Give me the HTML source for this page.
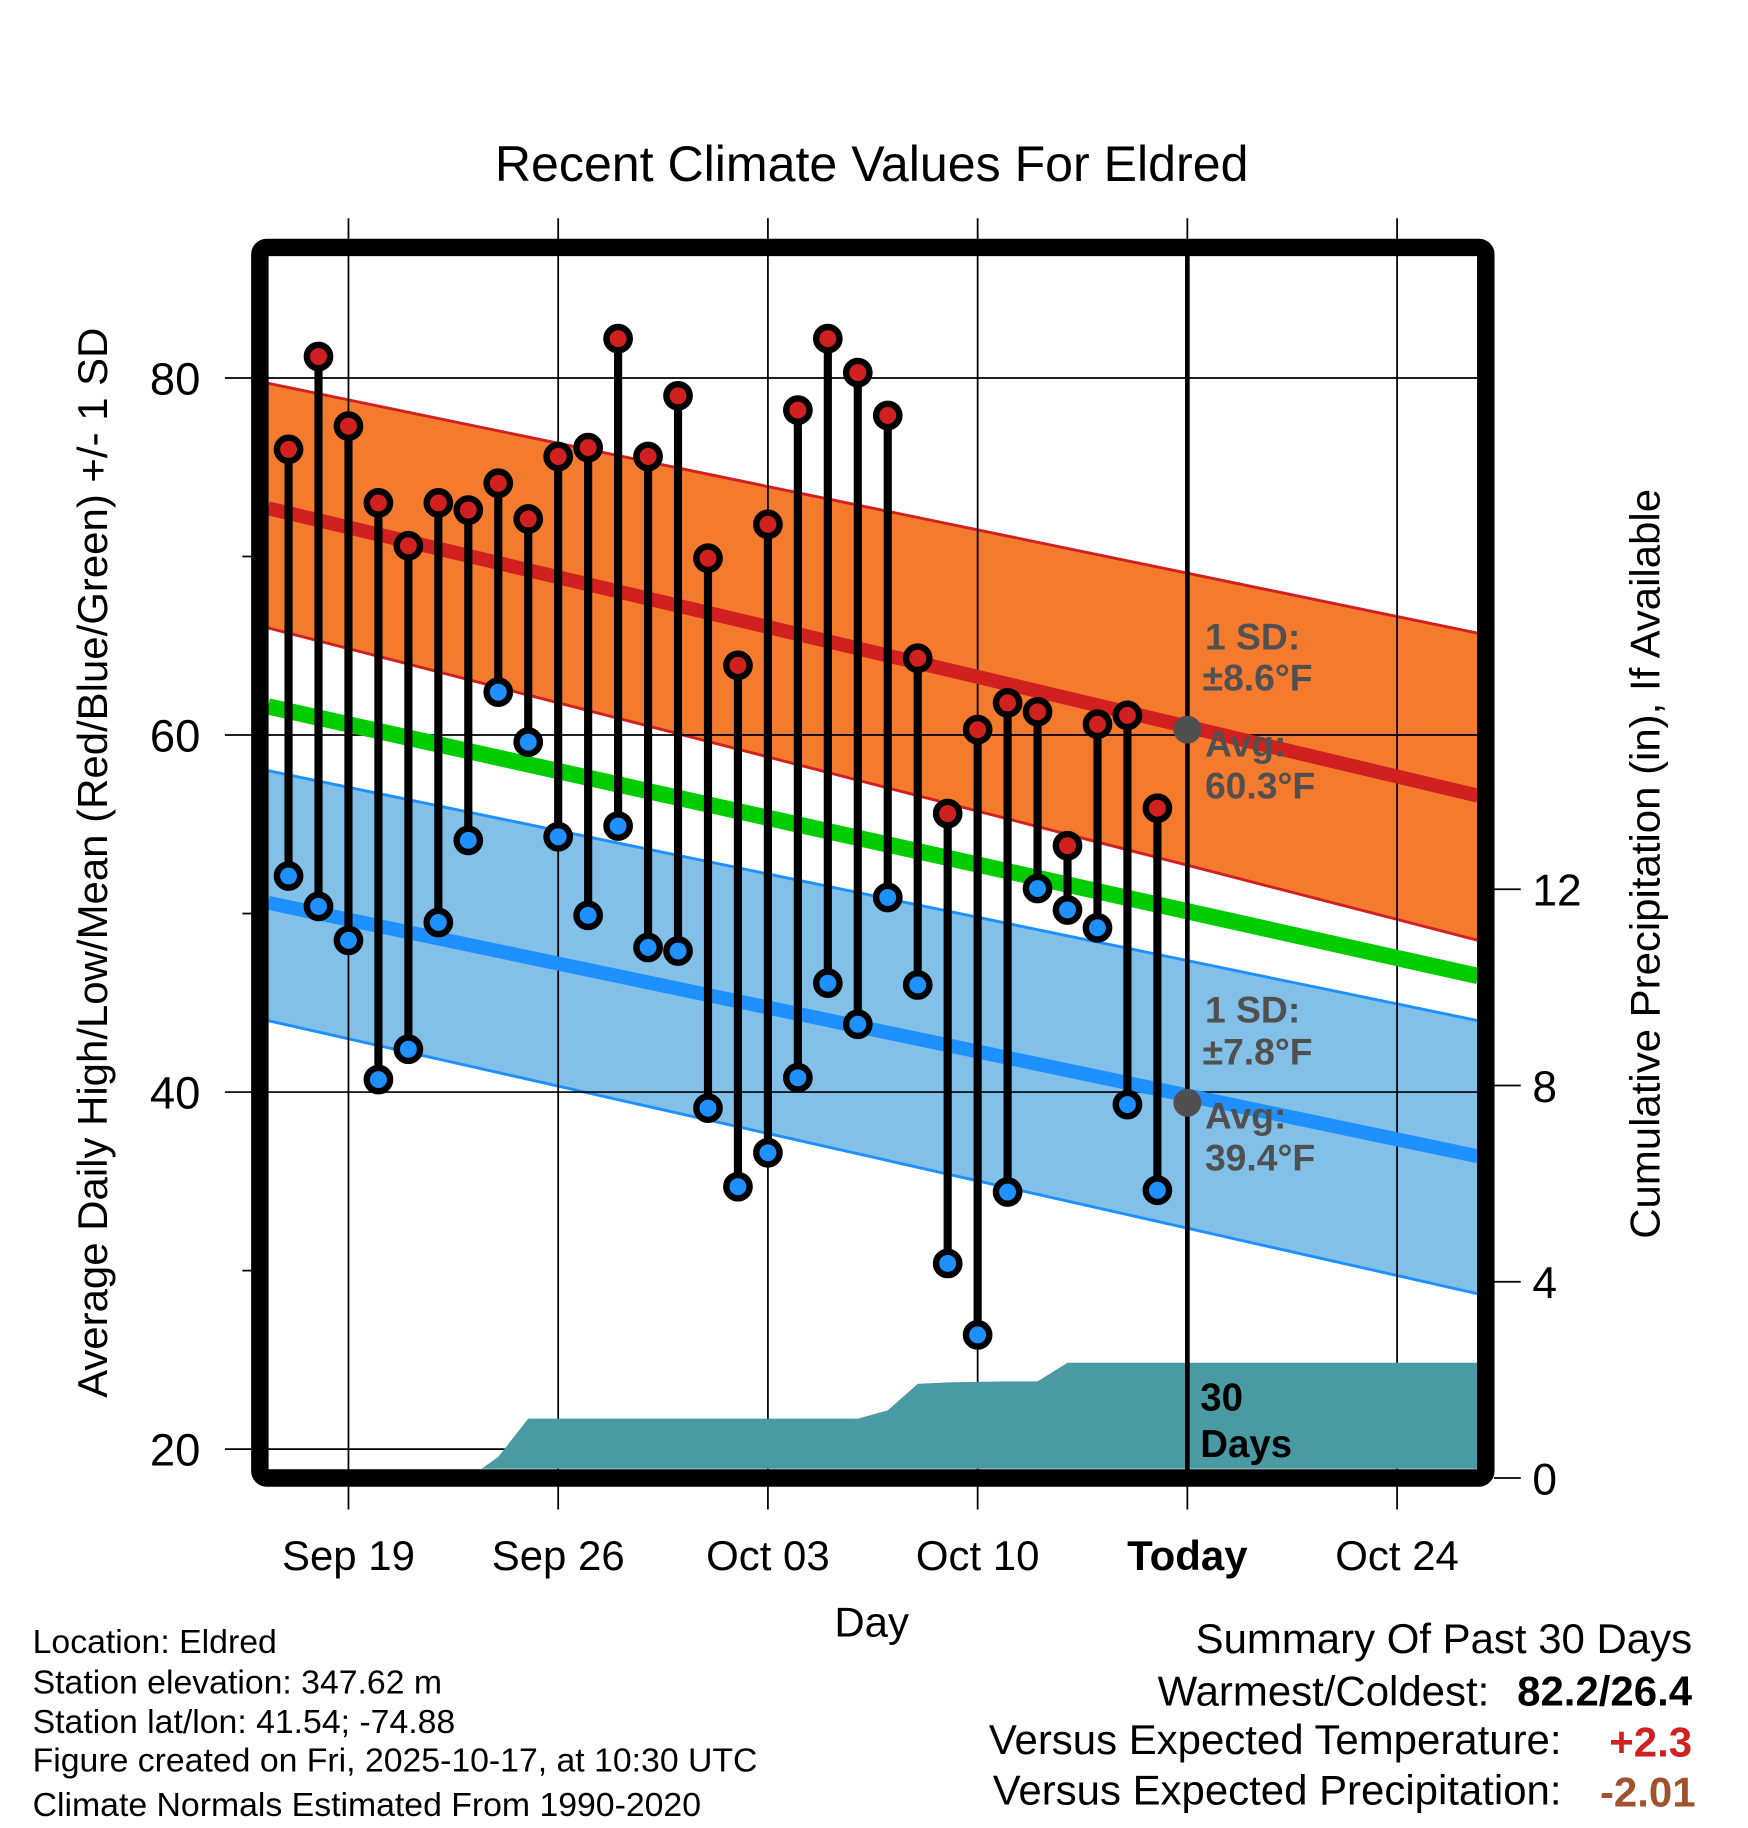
<!DOCTYPE html>
<html><head><meta charset="utf-8"><style>
html,body{margin:0;padding:0;background:#fff}
svg{display:block}
text{font-family:"Liberation Sans",Arial,sans-serif}
</style></head><body>
<svg id="chart" width="1748" height="1828" viewBox="0 0 1500 1568" xmlns="http://www.w3.org/2000/svg">
<defs><clipPath id="plotclip"><rect x="230" y="220" width="1038" height="1040"/></clipPath></defs>
<g id="bands" clip-path="url(#plotclip)"></g>
<g id="grid"></g>
<g id="precip" clip-path="url(#plotclip)"></g>
<g id="normals" clip-path="url(#plotclip)"></g>
<g id="stems"></g>
<g id="marks"></g>
<text x="748" y="155" font-size="43" text-anchor="middle">Recent Climate Values For Eldred</text>
<text transform="translate(92,740) rotate(-90)" font-size="36" text-anchor="middle">Average Daily High/Low/Mean (Red/Blue/Green) +/- 1 SD</text>
<text transform="translate(1424,741) rotate(-90)" font-size="36" text-anchor="middle">Cumulative Precipitation (in), If Available</text>
<text x="748" y="1404" font-size="36" text-anchor="middle">Day</text>
<g font-size="32" font-weight="bold" fill="#505050">
<text x="1034" y="557">1 SD:</text><text x="1032" y="592">±8.6°F</text>
<text x="1034" y="649">Avg:</text><text x="1034" y="685">60.3°F</text>
</g>
<g font-size="32" font-weight="bold" fill="#505050">
<text x="1034" y="877">1 SD:</text><text x="1032" y="913">±7.8°F</text>
<text x="1034" y="968">Avg:</text><text x="1034" y="1004">39.4°F</text>
</g>
<g font-size="33" font-weight="bold"><text x="1030" y="1210">30</text><text x="1030" y="1250">Days</text></g>
<rect x="223" y="212" width="1052" height="1056" rx="6" fill="none" stroke="#000" stroke-width="15"/>
<g font-size="29">
<text x="28" y="1418">Location: Eldred</text>
<text x="28" y="1453">Station elevation: 347.62 m</text>
<text x="28" y="1487">Station lat/lon: 41.54; -74.88</text>
<text x="28" y="1520">Figure created on Fri, 2025-10-17, at 10:30 UTC</text>
<text x="28" y="1558">Climate Normals Estimated From 1990-2020</text>
</g>
<g font-size="36" text-anchor="end">
<text x="1452" y="1418">Summary Of Past 30 Days</text>
<text x="1278" y="1463">Warmest/Coldest:</text>
<text x="1452" y="1463" font-weight="bold">82.2/26.4</text>
<text x="1340" y="1505">Versus Expected Temperature:</text>
<text x="1452" y="1507" font-weight="bold" fill="#d02020">+2.3</text>
<text x="1340" y="1548">Versus Expected Precipitation:</text>
<text x="1455" y="1550" font-weight="bold" fill="#a0522d">-2.01</text>
</g>
</svg>
<script>
// data: days since Sep 17
const highs = [76.0,81.2,77.3,73.0,70.6,73.0,72.6,74.1,72.1,75.6,76.1,82.2,75.6,79.0,69.9,63.9,71.8,78.2,82.2,80.3,77.9,64.3,55.6,60.3,61.8,61.3,53.8,60.6,61.1,55.9];
const lows = [52.1,50.4,48.5,40.7,42.4,49.5,54.1,62.4,59.6,54.3,49.9,54.9,48.1,47.9,39.1,34.7,36.6,40.8,46.1,43.8,50.9,46.0,30.4,26.4,34.4,51.4,50.2,49.2,39.3,34.5];
const precip = [0,0,0,0,0,0,0,0.43,1.21,1.21,1.21,1.21,1.21,1.21,1.21,1.21,1.21,1.21,1.21,1.21,1.38,1.92,1.95,1.96,1.97,1.97,2.35,2.35,2.35,2.35,2.35];
// normals at plot start / end (day -0.68, day 39.7)
const normalDays = [-0.68, 39.7];
const highMean = [72.7, 56.6], highUpper = [79.7, 65.7], highLower = [66.0, 48.5];
const meanNorm = [61.6, 46.5];
const lowMean = [50.6, 36.4], lowUpper = [58.0, 44.0], lowLower = [44.0, 28.7];
const yTicks = [80, 60, 40, 20], yMinor = [70, 50, 30];
const pTicks = [0, 4, 8, 12];
const xTickDays = [2, 9, 16, 23, 30, 37];
const xTickLabels = ["Sep 19","Sep 26","Oct 03","Oct 10","Today","Oct 24"];
const todayDay = 30, todayHigh = 60.3, todayLow = 39.4;

const X = d => 247.6 + 25.71 * d;
const Y = v => 324 + (80 - v) * 15.32;
const P = p => 1268 - p * 42.1;
const NS = "http://www.w3.org/2000/svg";
function el(tag, attrs, parent) { const e = document.createElementNS(NS, tag); for (const k in attrs) e.setAttribute(k, attrs[k]); parent.appendChild(e); return e; }
const bands = document.getElementById('bands'), grid = document.getElementById('grid'), pg = document.getElementById('precip'), ng = document.getElementById('normals'), sg = document.getElementById('stems'), mg = document.getElementById('marks');
const x0 = X(normalDays[0]), x1 = X(normalDays[1]);
function band(up, lo, fill, edge, name) {
  const p = el('polygon', {points: `${x0},${Y(up[0])} ${x1},${Y(up[1])} ${x1},${Y(lo[1])} ${x0},${Y(lo[0])}`, fill: fill}, bands);
  
  
  [up, lo].forEach(a => { el('line', {x1: x0, y1: Y(a[0]), x2: x1, y2: Y(a[1]), stroke: edge, 'stroke-width': 2.5}, bands); });
}
band(highUpper, highLower, '#f47a2e', '#d02020', 'high-sd-band');
band(lowUpper, lowLower, '#82c0e8', '#1e90ff', 'low-sd-band');
yTicks.forEach(v => {
  const l = el('line', {x1: 193, y1: Y(v), x2: 1268, y2: Y(v), stroke: '#000', 'stroke-width': 1.5}, grid);
  
  
  const t = el('text', {x: 172, y: Y(v) + 14, 'font-size': 39, 'text-anchor': 'end'}, grid); t.textContent = v;
  
  
});
yMinor.forEach(v => el('line', {x1: 208, y1: Y(v), x2: 218, y2: Y(v), stroke: '#000', 'stroke-width': 1.5}, grid));
pTicks.forEach(p => {
  el('line', {x1: 1282, y1: P(p), x2: 1305, y2: P(p), stroke: '#000', 'stroke-width': 1.5}, grid);
  const t = el('text', {x: 1315, y: P(p) + 14, 'font-size': 38}, grid); t.textContent = p;
  
  
});
xTickDays.forEach((d, i) => {
  const l = el('line', {x1: X(d), y1: 187, x2: X(d), y2: 1295, stroke: '#000', 'stroke-width': 1.5}, grid);
  
  
  const t = el('text', {x: X(d), y: 1347, 'font-size': 36, 'text-anchor': 'middle'}, grid); t.textContent = xTickLabels[i];
  if (xTickLabels[i] === 'Today') t.setAttribute('font-weight', 'bold');
  
  
});
let pts = `${X(0)},${P(0)} `;
precip.forEach((p, i) => { pts += `${X(i)},${P(p)} `; });
pts += `1270,${P(precip[precip.length - 1])} 1270,1262 ${X(0)},1262`;
const pa = el('polygon', {points: pts, fill: '#4a9aa4'}, pg);


[[highMean, '#d02020', 12, 'high-mean-line'], [meanNorm, '#00cc00', 14, 'mean-normal-line'], [lowMean, '#1e90ff', 12, 'low-mean-line']].forEach(([a, c, w, n]) => {
  const l = el('line', {x1: x0, y1: Y(a[0]), x2: x1, y2: Y(a[1]), stroke: c, 'stroke-width': w}, ng);
  
  
});
const tl = el('line', {x1: X(todayDay), y1: 218, x2: X(todayDay), y2: 1262, stroke: '#000', 'stroke-width': 4}, sg);


highs.forEach((h, i) => {
  const s = el('line', {x1: X(i), y1: Y(h), x2: X(i), y2: Y(lows[i]), stroke: '#000', 'stroke-width': 7}, sg);
  
  
  const ch = el('circle', {cx: X(i), cy: Y(h), r: 10, fill: '#d02020', stroke: '#000', 'stroke-width': 5.5}, mg);
  
  
  const cl = el('circle', {cx: X(i), cy: Y(lows[i]), r: 10, fill: '#1e90ff', stroke: '#000', 'stroke-width': 5.5}, mg);
  
  
});
[todayHigh, todayLow].forEach(v => {
  const c = el('circle', {cx: X(todayDay), cy: Y(v), r: 12, fill: '#505050'}, mg);
  
  
});
</script>
</body></html>
